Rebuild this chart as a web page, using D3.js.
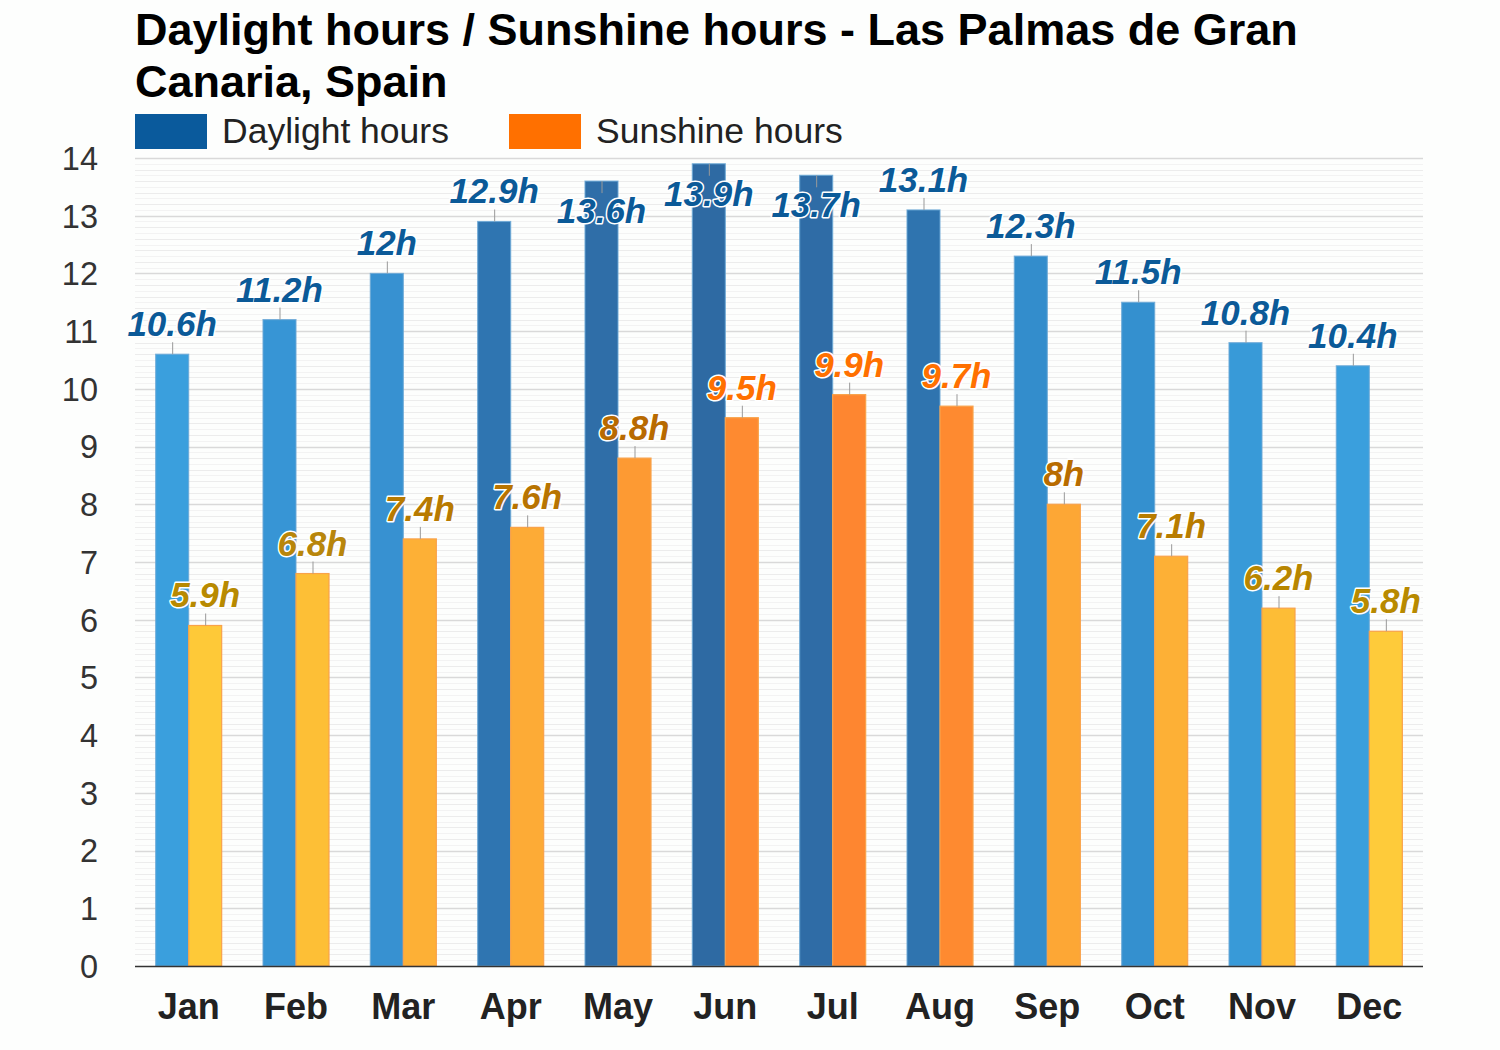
<!DOCTYPE html>
<html>
<head>
<meta charset="utf-8">
<script src="https://cdn.jsdelivr.net/npm/d3@7"></script>
<style>
  html, body { margin: 0; padding: 0; background: #fdfefd; }
  svg { display: block; font-family: "Liberation Sans", Arial, sans-serif; }
</style>
</head>
<body>
<svg id="chart" width="1500" height="1050"></svg>
<script>
const months = ["Jan","Feb","Mar","Apr","May","Jun","Jul","Aug","Sep","Oct","Nov","Dec"];
const daylight = [10.6, 11.2, 12, 12.9, 13.6, 13.9, 13.7, 13.1, 12.3, 11.5, 10.8, 10.4];
const sunshine = [5.9, 6.8, 7.4, 7.6, 8.8, 9.5, 9.9, 9.7, 8, 7.1, 6.2, 5.8];
const daylightFill = ["#3a9fdd","#3795d5","#3791d1","#2f75b1","#2f6ea8","#2e6aa3","#2f6ca6","#2f74af","#338dcc","#3490cf","#389ad8","#3a9fdd"];
const sunshineFill = ["#fec938","#fdbf36","#fdb036","#fdab36","#fd9a33","#fe8a30","#fe8630","#fe8a30","#fda735","#fdb036","#fdbd36","#fecb3a"];
const sunshineLabelColor = ["#b88a00","#b8860b","#b87a00","#b87400","#b86a00","#ff7000","#ff7000","#ff7000","#b86c00","#b87c00","#b88600","#b88a00"];
const yTicks = [0,1,2,3,4,5,6,7,8,9,10,11,12,13,14];
const titleLines = ["Daylight hours / Sunshine hours - Las Palmas de Gran", "Canaria, Spain"];
const legendItems = [{name: "Daylight hours", color: "#0a5a9c"}, {name: "Sunshine hours", color: "#ff7000"}];

const svg = d3.select("#chart");
const pL = 135, pR = 1423, pT = 158, pB = 966;

const x = d3.scaleBand().domain(months).range([pL, pR]).paddingInner(0).paddingOuter(0);
const y = d3.scaleLinear().domain([0, 14]).range([pB, pT]);
const barW = 33;

svg.append("rect").attr("x", 0).attr("y", 0).attr("width", 1500).attr("height", 1050).attr("fill", "#fdfefd");

// Title
svg.append("g").selectAll("text").data(titleLines).join("text")
  .attr("x", 135).attr("y", (d, i) => 45 + i * 52)
  .attr("font-size", 45).attr("font-weight", "bold").attr("fill", "#000")
  .text(d => d);

// Legend
const lg = svg.append("g");
const legendX = [135, 509];
legendItems.forEach((it, i) => {
  lg.append("rect").attr("x", legendX[i]).attr("y", 114).attr("width", 72).attr("height", 35).attr("fill", it.color);
  lg.append("text").attr("x", legendX[i] + 87).attr("y", 143).attr("font-size", 35.5).attr("fill", "#222").text(it.name);
});

// Grid minor
const minor = d3.range(0, 140).map(i => i / 10).filter(v => Math.abs(v - Math.round(v)) > 1e-6);
svg.append("g").selectAll("line").data(minor).join("line")
  .attr("x1", pL).attr("x2", pR)
  .attr("y1", d => Math.round(y(d)) + 0.5).attr("y2", d => Math.round(y(d)) + 0.5)
  .attr("stroke", d => (Math.round(d * 10) % 2 === 0) ? "#ececec" : "#f3f3f3").attr("stroke-width", 1);
// Grid major
svg.append("g").selectAll("line").data(yTicks.filter(v => v > 0)).join("line")
  .attr("x1", pL).attr("x2", pR)
  .attr("y1", d => Math.round(y(d)) + 0.5).attr("y2", d => Math.round(y(d)) + 0.5)
  .attr("stroke", "#d9d9d9").attr("stroke-width", 1.5);

// Y axis labels
const yAxis = d3.axisLeft(y).tickValues(yTicks).tickSize(0).tickPadding(0).tickFormat(d3.format("d"));
const yg = svg.append("g").attr("transform", `translate(${pL - 37},0)`).call(yAxis);
yg.select(".domain").remove();
yg.selectAll("text").attr("font-size", 32.5).attr("fill", "#333").attr("font-family", "Liberation Sans, Arial, sans-serif").attr("dy", "0.35em");

// Bars
const bars = svg.append("g");
bars.selectAll("rect.day").data(months).join("rect").attr("class", "day")
  .attr("x", d => x(d) + x.bandwidth() / 2 - barW)
  .attr("y", (d, i) => y(daylight[i]))
  .attr("width", barW)
  .attr("height", (d, i) => y(0) - y(daylight[i]))
  .attr("fill", (d, i) => daylightFill[i])
  .attr("stroke", "#6aa8d6").attr("stroke-width", 1.2).attr("stroke-opacity", 0.8);
bars.selectAll("rect.sun").data(months).join("rect").attr("class", "sun")
  .attr("x", d => x(d) + x.bandwidth() / 2)
  .attr("y", (d, i) => y(sunshine[i]))
  .attr("width", barW)
  .attr("height", (d, i) => y(0) - y(sunshine[i]))
  .attr("fill", (d, i) => sunshineFill[i])
  .attr("stroke", "#f9a24a").attr("stroke-width", 1.2);

// X axis line
svg.append("line").attr("x1", pL).attr("x2", pR).attr("y1", pB + 0.5).attr("y2", pB + 0.5)
  .attr("stroke", "#333").attr("stroke-width", 1.5);

// X labels
const xAxis = d3.axisBottom(x).tickSize(0).tickPadding(0);
const xg = svg.append("g").attr("transform", `translate(0,${pB})`).call(xAxis);
xg.select(".domain").remove();
xg.selectAll("text").attr("font-size", 36).attr("font-weight", "bold").attr("fill", "#222")
  .attr("font-family", "Liberation Sans, Arial, sans-serif").attr("dy", 0).attr("y", 53);

// Value labels
function addLabels(values, offset, colorFn) {
  const g = svg.append("g");
  values.forEach((v, i) => {
    const cx = x(months[i]) + x.bandwidth() / 2 + offset;
    const ty = y(v);
    let base = ty - 18, l1 = ty - 12;
    if (base - 26 < pT) { base = ty + 42; l1 = ty + 12; }
    g.append("line").attr("x1", cx + 0.5).attr("x2", cx + 0.5).attr("y1", ty).attr("y2", l1)
      .attr("stroke", "#999").attr("stroke-width", 1);
    g.append("text").attr("x", cx).attr("y", base).attr("text-anchor", "middle")
      .attr("font-size", 35).attr("font-weight", "bold").attr("font-style", "italic")
      .attr("fill", colorFn(i)).attr("stroke", "#fff").attr("stroke-width", 3)
      .attr("paint-order", "stroke").attr("stroke-linejoin", "round")
      .text(d3.format("~g")(v) + "h");
  });
}
addLabels(daylight, -barW / 2, () => "#0b5a98");
addLabels(sunshine, barW / 2, i => sunshineLabelColor[i]);
</script>
</body>
</html>
